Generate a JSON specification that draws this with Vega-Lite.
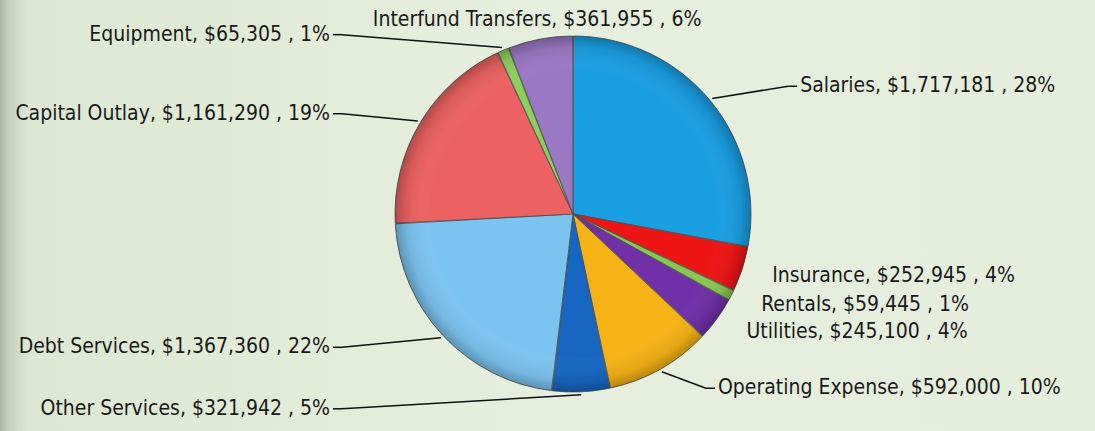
{
  "$schema": "https://vega.github.io/schema/vega-lite/v6.json",
  "width": 1095,
  "height": 431,
  "autosize": "none",
  "padding": 0,
  "background": "#e4eedb",
  "config": {
    "view": {
      "stroke": null,
      "fill": {
        "gradient": "linear",
        "x1": 0, "y1": 0, "x2": 1, "y2": 0,
        "stops": [
          {"offset": 0, "color": "#a9b5a2"},
          {"offset": 0.008, "color": "#c5d1bd"},
          {"offset": 0.025, "color": "#dce8d4"},
          {"offset": 0.5, "color": "#e6efdd"},
          {"offset": 1, "color": "#e5eedc"}
        ]
      }
    }
  },
  "data": {
    "values": [
      {"category": "Salaries", "value": 1717181},
      {"category": "Insurance", "value": 252945},
      {"category": "Rentals", "value": 59445},
      {"category": "Utilities", "value": 245100},
      {"category": "Operating Expense", "value": 592000},
      {"category": "Other Services", "value": 321942},
      {"category": "Debt Services", "value": 1367360},
      {"category": "Capital Outlay", "value": 1161290},
      {"category": "Equipment", "value": 65305},
      {"category": "Interfund Transfers", "value": 361955}
    ]
  },
  "transform": [
    {"window": [{"op": "row_number", "as": "idx"}, {"op": "sum", "field": "value", "as": "cum"}], "frame": [null, 0]},
    {"joinaggregate": [{"op": "sum", "field": "value", "as": "total"}]},
    {"calculate": "2*PI*(datum.cum - datum.value/2)/datum.total", "as": "a"},
    {"calculate": "sin(datum.a)", "as": "s"},
    {"calculate": "cos(datum.a)", "as": "c"},
    {"calculate": "181*datum.s", "as": "ex"},
    {"calculate": "-181*datum.c", "as": "ey"},
    {"calculate": "datum.c > 0.95 ? 'top' : (datum.s > 0.1 ? 'right' : 'left')", "as": "side"},
    {"calculate": "datum.side == 'top' ? -197*datum.c : (datum.side == 'right' ? -200*datum.c : -195*datum.c)", "as": "ly"},
    {"calculate": "datum.side == 'right' ? max(180*datum.s + 28 + 95*max(datum.c, 0), 145) : (datum.side == 'left' ? -243 : 195*datum.s)", "as": "lx"},
    {"calculate": "datum.side == 'right' ? datum.lx - 12 : datum.lx + 12", "as": "sx"},
    {"calculate": "datum.side == 'right' ? datum.lx - 3 : datum.lx + 3", "as": "tx"},
    {"calculate": "sqrt(pow(datum.sx - datum.ex, 2) + pow(datum.ly - datum.ey, 2))", "as": "dist"},
    {"calculate": "datum.side != 'top' && datum.dist > 25", "as": "showLine"},
    {"calculate": "datum.category + ', ' + format(datum.value, '$,') + ' , ' + format(datum.value/datum.total, '.0%')", "as": "label"}
  ],
  "layer": [
    {
      "mark": {"type": "arc", "outerRadius": 178, "stroke": "#4a4a4a", "strokeWidth": 0.8, "padAngle": 0.004},
      "encoding": {
        "theta": {"field": "value", "type": "quantitative", "stack": true},
        "order": {"field": "idx", "type": "quantitative"},
        "color": {
          "field": "category",
          "type": "nominal",
          "legend": null,
          "scale": {
            "domain": ["Salaries", "Insurance", "Rentals", "Utilities", "Operating Expense", "Other Services", "Debt Services", "Capital Outlay", "Equipment", "Interfund Transfers"],
            "range": ["#1a9fe3", "#ee1515", "#88c850", "#7030a8", "#f6b316", "#1767c2", "#7cc4f0", "#ec6262", "#8ccf5e", "#9b78c4"]
          }
        },
        "x": {"datum": 0, "type": "quantitative", "scale": {"domain": [-573, 522], "nice": false, "zero": false}, "axis": null},
        "y": {"datum": 0, "type": "quantitative", "scale": {"domain": [-214, 217], "nice": false, "zero": false, "reverse": true}, "axis": null}
      }
    },
    {
      "transform": [{"aggregate": [{"op": "sum", "field": "value", "as": "all"}]}],
      "mark": {
        "type": "arc",
        "outerRadius": 178,
        "fill": {
          "gradient": "radial",
          "x1": 0.5, "y1": 0.5, "r1": 0,
          "x2": 0.5, "y2": 0.5, "r2": 0.5,
          "stops": [
            {"offset": 0, "color": "rgba(255,255,255,0)"},
            {"offset": 0.8, "color": "rgba(255,255,255,0)"},
            {"offset": 0.94, "color": "rgba(0,0,0,0.08)"},
            {"offset": 1, "color": "rgba(0,0,0,0.25)"}
          ]
        }
      },
      "encoding": {
        "theta": {"field": "all", "type": "quantitative"},
        "x": {"datum": 0, "type": "quantitative"},
        "y": {"datum": 0, "type": "quantitative"}
      }
    },
    {
      "transform": [{"filter": "datum.showLine"}],
      "mark": {"type": "rule", "color": "#111111", "strokeWidth": 1.5},
      "encoding": {
        "x": {"field": "ex", "type": "quantitative"},
        "y": {"field": "ey", "type": "quantitative"},
        "x2": {"field": "sx"},
        "y2": {"field": "ly"}
      }
    },
    {
      "transform": [{"filter": "datum.showLine"}],
      "mark": {"type": "rule", "color": "#111111", "strokeWidth": 1.5},
      "encoding": {
        "x": {"field": "sx", "type": "quantitative"},
        "y": {"field": "ly", "type": "quantitative"},
        "x2": {"field": "tx"},
        "y2": {"field": "ly"}
      }
    },
    {
      "transform": [{"filter": "datum.side == 'right'"}],
      "mark": {"type": "text", "align": "left", "baseline": "middle", "font": "Liberation Sans Narrow, DejaVu Sans Condensed, sans-serif", "fontSize": 21, "color": "#1a1a1a"},
      "encoding": {
        "x": {"field": "lx", "type": "quantitative"},
        "y": {"field": "ly", "type": "quantitative"},
        "text": {"field": "label"}
      }
    },
    {
      "transform": [{"filter": "datum.side == 'left'"}],
      "mark": {"type": "text", "align": "right", "baseline": "middle", "font": "Liberation Sans Narrow, DejaVu Sans Condensed, sans-serif", "fontSize": 21, "color": "#1a1a1a"},
      "encoding": {
        "x": {"field": "lx", "type": "quantitative"},
        "y": {"field": "ly", "type": "quantitative"},
        "text": {"field": "label"}
      }
    },
    {
      "transform": [{"filter": "datum.side == 'top'"}],
      "mark": {"type": "text", "align": "center", "baseline": "middle", "font": "Liberation Sans Narrow, DejaVu Sans Condensed, sans-serif", "fontSize": 21, "color": "#1a1a1a"},
      "encoding": {
        "x": {"field": "lx", "type": "quantitative"},
        "y": {"field": "ly", "type": "quantitative"},
        "text": {"field": "label"}
      }
    }
  ]
}
